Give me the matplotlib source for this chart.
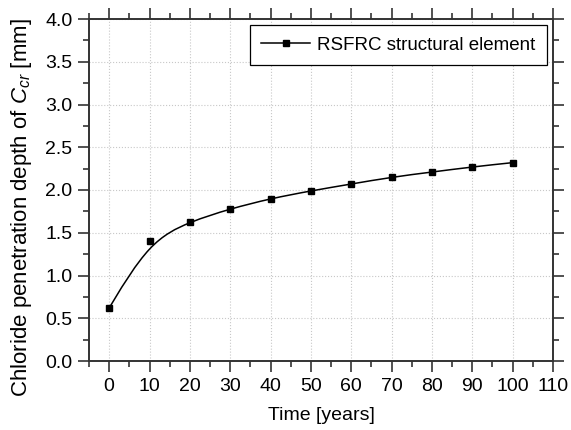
import numpy as np
import matplotlib
matplotlib.use('Agg')
import matplotlib.pyplot as plt
from matplotlib.path import Path
from matplotlib.patches import PathPatch
from matplotlib.lines import Line2D

plt.rcParams['font.family'] = ['Liberation Sans', 'DejaVu Sans']
plt.rcParams['mathtext.fontset'] = 'custom'
plt.rcParams['mathtext.it'] = 'Liberation Sans:italic'
plt.rcParams['mathtext.rm'] = 'Liberation Sans'

# data
years = [0, 10, 20, 30, 40, 50, 60, 70, 80, 90, 100]
depth = [0.62, 1.40, 1.63, 1.78, 1.90, 1.99, 2.07, 2.15, 2.21, 2.27, 2.32]
series_name = 'RSFRC structural element'

fig = plt.figure(figsize=(5.71, 4.30), dpi=100)
ax = fig.add_axes([89 / 571, 1 - 361 / 430, (553 - 89) / 571, (361 - 19) / 430])

# smooth B-spline connection (Origin style), drawn as Bezier path from the data
P = np.column_stack([years, depth])
P = np.vstack([P[:1], P[:1], P, P[-1:], P[-1:]])
verts = [tuple((P[0] + 4 * P[1] + P[2]) / 6)]
codes = [Path.MOVETO]
for i in range(1, len(P) - 2):
    a, b, c = P[i], P[i + 1], P[i + 2]
    verts += [tuple((2 * a + b) / 3), tuple((a + 2 * b) / 3), tuple((a + 4 * b + c) / 6)]
    codes += [Path.CURVE4] * 3
ax.add_patch(PathPatch(Path(verts, codes), facecolor='none', edgecolor='black', lw=1.1, zorder=3))
ax.plot(years, depth, ls='none', marker='s', ms=5, color='black', zorder=4)

ax.set_xlim(-5, 110)
ax.set_ylim(0, 4.0)
ax.set_xticks(np.arange(0, 111, 10))
ax.set_xticks(np.arange(-5, 111, 5), minor=True)
ax.set_yticks(np.arange(0, 4.01, 0.5))
ax.set_yticks(np.arange(0, 4.01, 0.25), minor=True)
ax.yaxis.set_major_formatter(matplotlib.ticker.FormatStrFormatter('%.1f'))
ax.grid(True, which='major', color='#c8c8c8', ls=':', lw=0.8)
ax.set_axisbelow(True)

for s in ax.spines.values():
    s.set_linewidth(1.4)
    s.set_color('#333333')
ax.tick_params(which='both', direction='out', top=True, right=True, width=1.2,
               color='#333333', labelsize=14, pad=4)
ax.tick_params(which='major', length=8)
ax.tick_params(which='minor', length=4)

ax.set_xlabel('Time [years]', fontsize=14, labelpad=9)
ax.set_ylabel(r'Chloride penetration depth of $C_{cr}$ [mm]', fontsize=16)
ax.yaxis.set_label_coords(-0.118, 0.45)

handle = Line2D([], [], color='black', lw=1.1, marker='s', ms=5)
leg = ax.legend([handle], [series_name], loc='upper right', fontsize=13.5, fancybox=False,
                edgecolor='black', framealpha=1, handlelength=2.6, handletextpad=0.4,
                borderpad=0.6, borderaxespad=0, bbox_to_anchor=(0.987, 0.982))
leg.get_frame().set_linewidth(0.9)

fig.savefig('out.png', dpi=100)
